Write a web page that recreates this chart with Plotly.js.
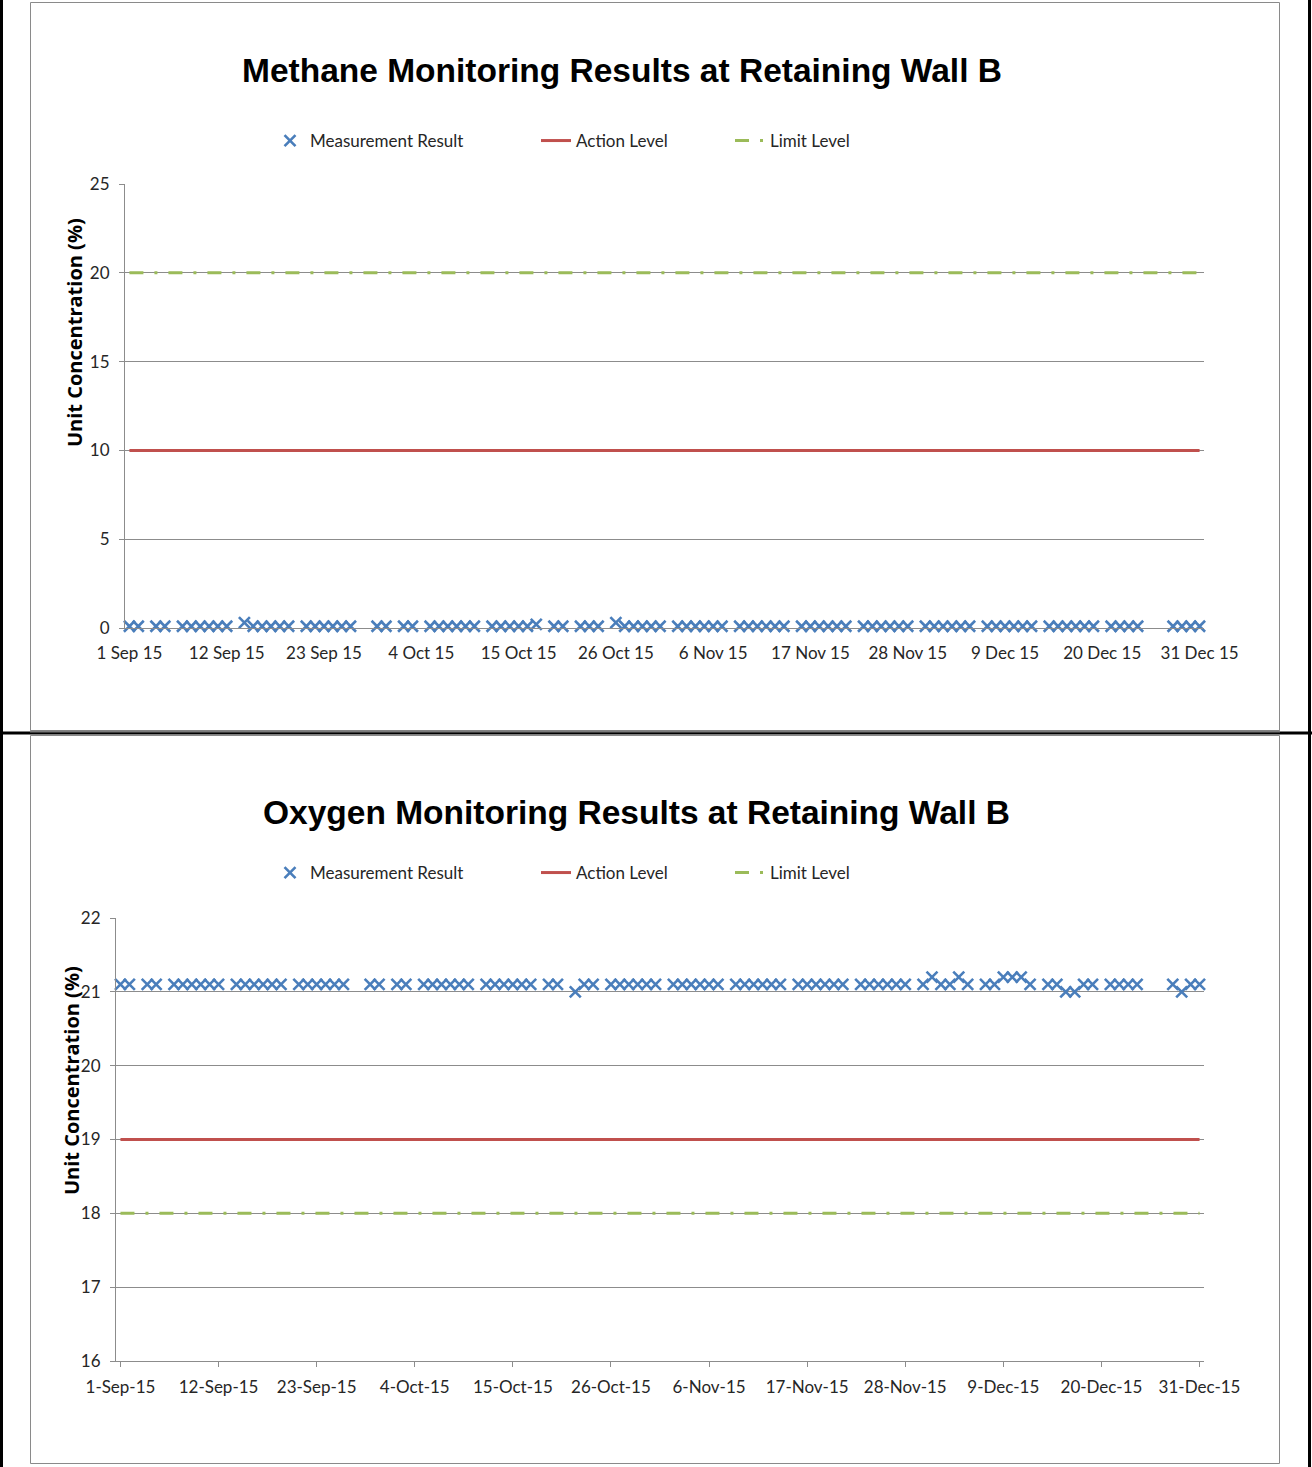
<!DOCTYPE html>
<html>
<head>
<meta charset="utf-8">
<script src="https://cdn.plot.ly/plotly-3.0.1.min.js"></script>
<style>
  html, body { margin: 0; padding: 0; background: #ffffff; }
  #chart { width: 1312px; height: 1467px; }
</style>
</head>
<body>
<div id="chart"></div>
<script>
// ---------- DATA ----------
// Monitoring dates (Mon-Sat, excluding public holidays)
var sepDates = ['2015-09-01','2015-09-02','2015-09-04','2015-09-05','2015-09-07','2015-09-08','2015-09-09','2015-09-10','2015-09-11','2015-09-12','2015-09-14','2015-09-15','2015-09-16','2015-09-17','2015-09-18','2015-09-19','2015-09-21','2015-09-22','2015-09-23','2015-09-24','2015-09-25','2015-09-26','2015-09-29','2015-09-30'];
var octDates = ['2015-10-02','2015-10-03','2015-10-05','2015-10-06','2015-10-07','2015-10-08','2015-10-09','2015-10-10','2015-10-12','2015-10-13','2015-10-14','2015-10-15','2015-10-16','2015-10-17','2015-10-19','2015-10-20','2015-10-22','2015-10-23','2015-10-24','2015-10-26','2015-10-27','2015-10-28','2015-10-29','2015-10-30','2015-10-31'];
var novDates = ['2015-11-02','2015-11-03','2015-11-04','2015-11-05','2015-11-06','2015-11-07','2015-11-09','2015-11-10','2015-11-11','2015-11-12','2015-11-13','2015-11-14','2015-11-16','2015-11-17','2015-11-18','2015-11-19','2015-11-20','2015-11-21','2015-11-23','2015-11-24','2015-11-25','2015-11-26','2015-11-27','2015-11-28','2015-11-30'];
var decDates = ['2015-12-01','2015-12-02','2015-12-03','2015-12-04','2015-12-05','2015-12-07','2015-12-08','2015-12-09','2015-12-10','2015-12-11','2015-12-12','2015-12-14','2015-12-15','2015-12-16','2015-12-17','2015-12-18','2015-12-19','2015-12-21','2015-12-22','2015-12-23','2015-12-24','2015-12-28','2015-12-29','2015-12-30','2015-12-31'];

// Methane (%)
var methaneSep = [0.1,0.1,0.1,0.1,0.1,0.1,0.1,0.1,0.1,0.1,0.3,0.1,0.1,0.1,0.1,0.1,0.1,0.1,0.1,0.1,0.1,0.1,0.1,0.1];
var methaneOct = [0.1,0.1,0.1,0.1,0.1,0.1,0.1,0.1,0.1,0.1,0.1,0.1,0.1,0.2,0.1,0.1,0.1,0.1,0.1,0.3,0.1,0.1,0.1,0.1,0.1];
var methaneNov = [0.1,0.1,0.1,0.1,0.1,0.1,0.1,0.1,0.1,0.1,0.1,0.1,0.1,0.1,0.1,0.1,0.1,0.1,0.1,0.1,0.1,0.1,0.1,0.1,0.1];
var methaneDec = [0.1,0.1,0.1,0.1,0.1,0.1,0.1,0.1,0.1,0.1,0.1,0.1,0.1,0.1,0.1,0.1,0.1,0.1,0.1,0.1,0.1,0.1,0.1,0.1,0.1];
var methaneAction = 10;
var methaneLimit = 20;

// Oxygen (%)
var oxygenSep = [21.1,21.1,21.1,21.1,21.1,21.1,21.1,21.1,21.1,21.1,21.1,21.1,21.1,21.1,21.1,21.1,21.1,21.1,21.1,21.1,21.1,21.1,21.1,21.1];
var oxygenOct = [21.1,21.1,21.1,21.1,21.1,21.1,21.1,21.1,21.1,21.1,21.1,21.1,21.1,21.1,21.1,21.1,21.0,21.1,21.1,21.1,21.1,21.1,21.1,21.1,21.1];
var oxygenNov = [21.1,21.1,21.1,21.1,21.1,21.1,21.1,21.1,21.1,21.1,21.1,21.1,21.1,21.1,21.1,21.1,21.1,21.1,21.1,21.1,21.1,21.1,21.1,21.1,21.1];
var oxygenDec = [21.2,21.1,21.1,21.2,21.1,21.1,21.1,21.2,21.2,21.2,21.1,21.1,21.1,21.0,21.0,21.1,21.1,21.1,21.1,21.1,21.1,21.1,21.0,21.1,21.1];
var oxygenAction = 19;
var oxygenLimit = 18;

var seriesNames = ['Measurement Result', 'Action Level', 'Limit Level'];
var chartTitles = ['Methane Monitoring Results at Retaining Wall B', 'Oxygen Monitoring Results at Retaining Wall B'];
var yAxisTitle = 'Unit Concentration (%)';

// ---------- BUILD ----------
var dates = sepDates.concat(octDates, novDates, decDates);
var methane = methaneSep.concat(methaneOct, methaneNov, methaneDec);
var oxygen = oxygenSep.concat(oxygenOct, oxygenNov, oxygenDec);
var lineDates = [dates[0], dates[dates.length - 1]];

var W = 1312, H = 1467;
function px(x) { return x / W; }
function py(y) { return 1 - y / H; }

var blue = '#4a7ebb', red = '#c0504d', green = '#9bbb59';
var gridC = '#8c8c8c';
var txtFont = 'Lato, "Open Sans", sans-serif';

function measTrace(y, xa, ya, lg) {
  return { x: dates, y: y, xaxis: xa, yaxis: ya, legend: lg, name: seriesNames[0], type: 'scatter', mode: 'markers',
    cliponaxis: false,
    marker: { symbol: 'x-thin', size: 11, color: blue, line: { color: blue, width: 2.6 } } };
}
function levelTrace(v, xa, ya, lg, nm, col, dash) {
  return { x: lineDates, y: [v, v], xaxis: xa, yaxis: ya, legend: lg, name: nm, type: 'scatter', mode: 'lines',
    line: { color: col, width: 3, dash: dash } };
}
var dashPat = '14px,11px,3px,11px';

var data = [
  measTrace(methane, 'x', 'y', 'legend'),
  levelTrace(methaneAction, 'x', 'y', 'legend2', seriesNames[1], red, 'solid'),
  levelTrace(methaneLimit, 'x', 'y', 'legend3', seriesNames[2], green, dashPat),
  measTrace(oxygen, 'x2', 'y2', 'legend4'),
  levelTrace(oxygenAction, 'x2', 'y2', 'legend5', seriesNames[1], red, 'solid'),
  levelTrace(oxygenLimit, 'x2', 'y2', 'legend6', seriesNames[2], green, dashPat)
];

var xRange = ['2015-08-31 12:00', '2015-12-31 12:00'];
var dayMs = 86400000;

function legendAt(left, y) {
  return { x: px(left), xanchor: 'left', y: py(y), yanchor: 'middle', orientation: 'h',
    bgcolor: 'rgba(0,0,0,0)', borderwidth: 0, font: { family: txtFont, size: 17, color: '#262626' } };
}

function box(x0, y0, x1, y1, col, w) {
  return { type: 'rect', xref: 'paper', yref: 'paper', x0: px(x0), x1: px(x1), y0: py(y0), y1: py(y1),
    line: { color: col, width: w }, fillcolor: 'rgba(0,0,0,0)', layer: 'above' };
}
function seg(x0, y0, x1, y1, col, w) {
  return { type: 'line', xref: 'paper', yref: 'paper', x0: px(x0), x1: px(x1), y0: py(y0), y1: py(y1),
    line: { color: col, width: w }, layer: 'above' };
}

var tickF = { family: txtFont, size: 17, color: '#262626' };

var layout = {
  width: W, height: H, autosize: false,
  margin: { l: 0, r: 0, t: 0, b: 0, pad: 0 },
  paper_bgcolor: '#ffffff', plot_bgcolor: '#ffffff',
  font: { family: txtFont, size: 16, color: '#262626' },
  showlegend: true,
  xaxis: { domain: [px(125), px(1204)], anchor: 'y', type: 'date', range: xRange,
    tickmode: 'linear', tick0: '2015-09-01', dtick: 11 * dayMs, tickformat: '%-d %b %y',
    showgrid: false, zeroline: false, showline: true, linecolor: gridC, linewidth: 1,
    ticks: '', ticklabelstandoff: 10, tickfont: tickF },
  yaxis: { domain: [py(628), py(184)], anchor: 'x', range: [0, 25], tickmode: 'linear', tick0: 0, dtick: 5,
    showgrid: true, gridcolor: gridC, gridwidth: 1, zeroline: false, showline: true, linecolor: gridC,
    ticks: 'outside', ticklen: 5, tickcolor: gridC, ticklabelstandoff: 6, tickfont: tickF },
  xaxis2: { domain: [px(116), px(1204)], anchor: 'y2', type: 'date', range: xRange,
    tickmode: 'linear', tick0: '2015-09-01', dtick: 11 * dayMs, tickformat: '%-d-%b-%y',
    showgrid: false, zeroline: false, showline: true, linecolor: gridC, linewidth: 1,
    ticks: 'outside', ticklen: 5, tickcolor: gridC, ticklabelstandoff: 6, tickfont: tickF },
  yaxis2: { domain: [py(1361), py(918)], anchor: 'x2', range: [16, 22], tickmode: 'linear', tick0: 16, dtick: 1,
    showgrid: true, gridcolor: gridC, gridwidth: 1, zeroline: false, showline: true, linecolor: gridC,
    ticks: 'outside', ticklen: 5, tickcolor: gridC, ticklabelstandoff: 6, tickfont: tickF },
  legend: legendAt(270, 141),
  legend2: legendAt(536, 141),
  legend3: legendAt(730, 141),
  legend4: legendAt(270, 873),
  legend5: legendAt(536, 873),
  legend6: legendAt(730, 873),
  annotations: [
    { text: '<b>' + chartTitles[0] + '</b>', xref: 'paper', yref: 'paper', x: px(622), y: py(70),
      xanchor: 'center', yanchor: 'middle', showarrow: false,
      font: { family: '"Liberation Sans", Arial, sans-serif', size: 33.5, color: '#000' } },
    { text: '<b>' + chartTitles[1] + '</b>', xref: 'paper', yref: 'paper', x: px(636), y: py(812),
      xanchor: 'center', yanchor: 'middle', showarrow: false,
      font: { family: '"Liberation Sans", Arial, sans-serif', size: 33.5, color: '#000' } },
    { text: '<b>' + yAxisTitle + '</b>', xref: 'paper', yref: 'paper', x: px(74), y: py(333),
      xanchor: 'center', yanchor: 'middle', showarrow: false, textangle: -90,
      font: { family: '"Open Sans", sans-serif', size: 20, color: '#000' } },
    { text: '<b>' + yAxisTitle + '</b>', xref: 'paper', yref: 'paper', x: px(71), y: py(1081),
      xanchor: 'center', yanchor: 'middle', showarrow: false, textangle: -90,
      font: { family: '"Open Sans", sans-serif', size: 20, color: '#000' } }
  ],
  shapes: [
    box(30.5, 2.5, 1279.5, 730.5, '#8a8a8a', 1),
    box(30.5, 735.5, 1279.5, 1463.5, '#8a8a8a', 1),
    seg(1.5, 0, 1.5, 1467, '#000', 3),
    seg(1309.5, 0, 1309.5, 1467, '#000', 3),
    seg(0, 733, 1312, 733, '#000', 3),
    seg(30, 731.5, 1280, 731.5, '#7a7a7a', 2)
  ]
};

Plotly.newPlot('chart', data, layout, { displayModeBar: false, staticPlot: true });
</script>
</body>
</html>
